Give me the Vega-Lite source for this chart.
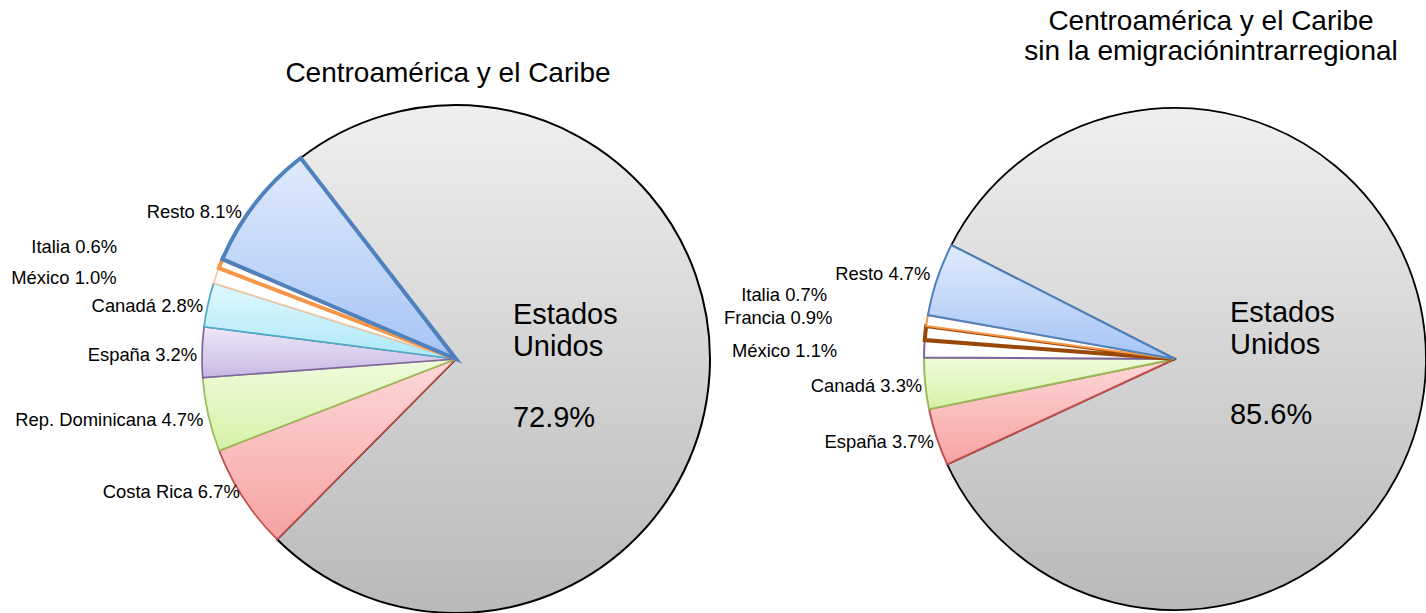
{
  "$schema": "https://vega.github.io/schema/vega-lite/v6.json",
  "padding": {"left": 0, "top": 8, "right": 0, "bottom": 0},
  "autosize": {"type": "pad"},
  "spacing": 13,
  "bounds": "flush",
  "background": "white",
  "config": {
    "view": {"stroke": null, "fill": "white"},
    "title": {"font": "Liberation Sans", "fontSize": 28, "fontWeight": "normal", "color": "black"},
    "text": {"font": "Liberation Sans", "color": "black"}
  },
  "hconcat": [
    {
      "width": 912,
      "height": 500,
      "title": {"text": "Centroamérica y el Caribe", "anchor": "middle", "dx": -8, "offset": 13},
      "data": {"values": [
        {"pais": "Estados Unidos", "pct": 72.9},
        {"pais": "Costa Rica", "pct": 6.7},
        {"pais": "Rep. Dominicana", "pct": 4.7},
        {"pais": "España", "pct": 3.2},
        {"pais": "Canadá", "pct": 2.8},
        {"pais": "México", "pct": 1.0},
        {"pais": "Italia", "pct": 0.6},
        {"pais": "Resto", "pct": 8.1}
      ]},
      "transform": [
        {"window": [{"op": "row_number", "as": "idx"}]},
        {"calculate": "datum.pais === 'Estados Unidos' ? '' : datum.pais + ' ' + format(datum.pct, '.1f') + '%'", "as": "lab"},
        {"calculate": "datum.pais === 'Estados Unidos' ? datum.pais : ''", "as": "labname"},
        {"calculate": "datum.pais === 'Estados Unidos' ? format(datum.pct, '.1f') + '%' : ''", "as": "labpct"}
      ],
      "encoding": {
        "theta": {"field": "pct", "type": "quantitative", "stack": true, "scale": {"range": [5.6252, 11.9084]}},
        "order": {"field": "idx", "type": "quantitative"},
        "detail": {"field": "pais", "type": "nominal"}
      },
      "layer": [
        {
          "mark": {"type": "arc", "outerRadius": 254, "strokeJoin": "miter"},
          "encoding": {
            "color": {
              "condition": [
                {"test": "datum.pais === 'Estados Unidos'", "value": {"gradient": "linear", "x1": 0, "y1": 0, "x2": 0, "y2": 1, "stops": [{"offset": 0, "color": "#efefef"}, {"offset": 1, "color": "#b9b9b9"}]}},
                {"test": "datum.pais === 'Resto'", "value": {"gradient": "linear", "x1": 0, "y1": 0, "x2": 0, "y2": 1, "stops": [{"offset": 0, "color": "#e0eafc"}, {"offset": 1, "color": "#a6c4f5"}]}},
                {"test": "datum.pais === 'Canadá'", "value": {"gradient": "linear", "x1": 0, "y1": 0, "x2": 0, "y2": 1, "stops": [{"offset": 0, "color": "#e0f8fe"}, {"offset": 1, "color": "#aee8f8"}]}},
                {"test": "datum.pais === 'España'", "value": {"gradient": "linear", "x1": 0, "y1": 0, "x2": 0, "y2": 1, "stops": [{"offset": 0, "color": "#eee8f7"}, {"offset": 1, "color": "#c8b8e4"}]}},
                {"test": "datum.pais === 'Rep. Dominicana'", "value": {"gradient": "linear", "x1": 0, "y1": 0, "x2": 0, "y2": 1, "stops": [{"offset": 0, "color": "#f0fbdc"}, {"offset": 1, "color": "#d5f2a8"}]}},
                {"test": "datum.pais === 'Costa Rica'", "value": {"gradient": "linear", "x1": 0, "y1": 0, "x2": 0, "y2": 1, "stops": [{"offset": 0, "color": "#fdd8d8"}, {"offset": 1, "color": "#f7a2a2"}]}}
              ],
              "value": "white"
            },
            "stroke": {
              "condition": [
                {"test": "datum.pais === 'Estados Unidos'", "value": "#000000"},
                {"test": "datum.pais === 'Resto'", "value": "#4f81bd"},
                {"test": "datum.pais === 'Italia'", "value": "#f79646"},
                {"test": "datum.pais === 'México'", "value": "#fac79f"},
                {"test": "datum.pais === 'Canadá'", "value": "#4bacc6"},
                {"test": "datum.pais === 'España'", "value": "#8064a2"},
                {"test": "datum.pais === 'Rep. Dominicana'", "value": "#9bbb59"},
                {"test": "datum.pais === 'Costa Rica'", "value": "#c0504d"}
              ],
              "value": "#000000"
            },
            "strokeWidth": {
              "condition": [
                {"test": "datum.pais === 'Resto'", "value": 4},
                {"test": "datum.pais === 'Italia'", "value": 4},
                {"test": "datum.pais === 'Estados Unidos'", "value": 2}
              ],
              "value": 1.7
            }
          }
        },
        {
          "mark": {"type": "text", "radius": 262, "align": "right", "baseline": "middle", "fontSize": 18.4,
            "dx": {"expr": "datum.pais === 'Italia' ? -96 : datum.pais === 'México' ? -92 : datum.pais === 'Resto' ? -7 : 3"},
            "dy": {"expr": "datum.pais === 'Italia' ? -14 : datum.pais === 'México' ? 5 : datum.pais === 'Resto' ? 13 : datum.pais === 'Costa Rica' ? -10 : 3"}},
          "encoding": {"text": {"field": "lab", "type": "nominal"}}
        },
        {
          "mark": {"type": "text", "radius": 57, "align": "left", "baseline": "alphabetic", "fontSize": 29, "lineBreak": " ", "lineHeight": 32, "dy": -39},
          "encoding": {"text": {"field": "labname", "type": "nominal"}}
        },
        {
          "mark": {"type": "text", "radius": 57, "align": "left", "baseline": "alphabetic", "fontSize": 29, "dy": 64},
          "encoding": {"text": {"field": "labpct", "type": "nominal"}}
        }
      ]
    },
    {
      "width": 500,
      "height": 500,
      "title": {"text": ["Centroamérica y el Caribe", "sin la emigraciónintrarregional"], "anchor": "middle", "dx": 36, "offset": 38, "lineHeight": 30},
      "data": {"values": [
        {"pais": "Estados Unidos", "pct": 85.6},
        {"pais": "España", "pct": 3.7},
        {"pais": "Canadá", "pct": 3.3},
        {"pais": "México", "pct": 1.1},
        {"pais": "Francia", "pct": 0.9},
        {"pais": "Italia", "pct": 0.7},
        {"pais": "Resto", "pct": 4.7}
      ]},
      "transform": [
        {"window": [{"op": "row_number", "as": "idx"}]},
        {"calculate": "datum.pais === 'Estados Unidos' ? '' : datum.pais + ' ' + format(datum.pct, '.1f') + '%'", "as": "lab"},
        {"calculate": "datum.pais === 'Estados Unidos' ? datum.pais : ''", "as": "labname"},
        {"calculate": "datum.pais === 'Estados Unidos' ? format(datum.pct, '.1f') + '%' : ''", "as": "labpct"}
      ],
      "encoding": {
        "theta": {"field": "pct", "type": "quantitative", "stack": true, "scale": {"range": [5.1836, 11.4668]}},
        "order": {"field": "idx", "type": "quantitative"},
        "detail": {"field": "pais", "type": "nominal"}
      },
      "layer": [
        {
          "mark": {"type": "arc", "outerRadius": 251, "strokeJoin": "miter"},
          "encoding": {
            "color": {
              "condition": [
                {"test": "datum.pais === 'Estados Unidos'", "value": {"gradient": "linear", "x1": 0, "y1": 0, "x2": 0, "y2": 1, "stops": [{"offset": 0, "color": "#efefef"}, {"offset": 1, "color": "#b9b9b9"}]}},
                {"test": "datum.pais === 'Resto'", "value": {"gradient": "linear", "x1": 0, "y1": 0, "x2": 0, "y2": 1, "stops": [{"offset": 0, "color": "#e0eafc"}, {"offset": 1, "color": "#a6c4f5"}]}},
                {"test": "datum.pais === 'Canadá'", "value": {"gradient": "linear", "x1": 0, "y1": 0, "x2": 0, "y2": 1, "stops": [{"offset": 0, "color": "#f0fbdc"}, {"offset": 1, "color": "#d5f2a8"}]}},
                {"test": "datum.pais === 'España'", "value": {"gradient": "linear", "x1": 0, "y1": 0, "x2": 0, "y2": 1, "stops": [{"offset": 0, "color": "#fdd8d8"}, {"offset": 1, "color": "#f7a2a2"}]}}
              ],
              "value": "white"
            },
            "stroke": {
              "condition": [
                {"test": "datum.pais === 'Estados Unidos'", "value": "#000000"},
                {"test": "datum.pais === 'Resto'", "value": "#4f81bd"},
                {"test": "datum.pais === 'Italia'", "value": "#f79646"},
                {"test": "datum.pais === 'Francia'", "value": "#984807"},
                {"test": "datum.pais === 'México'", "value": "#8064a2"},
                {"test": "datum.pais === 'Canadá'", "value": "#9bbb59"},
                {"test": "datum.pais === 'España'", "value": "#c0504d"}
              ],
              "value": "#000000"
            },
            "strokeWidth": {
              "condition": [
                {"test": "datum.pais === 'Francia'", "value": 4},
                {"test": "datum.pais === 'Estados Unidos'", "value": 1.8}
              ],
              "value": 2
            }
          }
        },
        {
          "mark": {"type": "text", "radius": 258, "align": "right", "baseline": "middle", "fontSize": 18.4,
            "dx": {"expr": "datum.pais === 'Italia' ? -93 : datum.pais === 'Francia' ? -86 : datum.pais === 'México' ? -80 : datum.pais === 'Resto' ? 0 : 4"},
            "dy": {"expr": "datum.pais === 'Italia' ? -24 : datum.pais === 'Francia' ? -14 : datum.pais === 'México' ? 3 : datum.pais === 'Resto' ? -3 : 2"}},
          "encoding": {"text": {"field": "lab", "type": "nominal"}}
        },
        {
          "mark": {"type": "text", "radius": 55, "align": "left", "baseline": "alphabetic", "fontSize": 29, "lineBreak": " ", "lineHeight": 32, "dy": -38},
          "encoding": {"text": {"field": "labname", "type": "nominal"}}
        },
        {
          "mark": {"type": "text", "radius": 55, "align": "left", "baseline": "alphabetic", "fontSize": 29, "dy": 64},
          "encoding": {"text": {"field": "labpct", "type": "nominal"}}
        }
      ]
    }
  ]
}
